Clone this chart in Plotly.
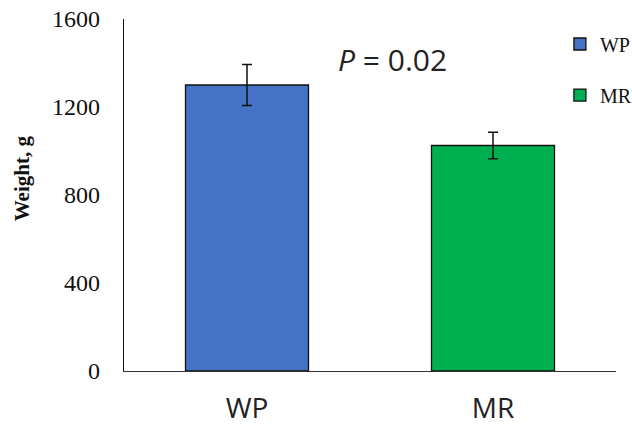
import plotly.graph_objects as go

categories = ["WP", "MR"]
weights = [1300, 1025]
errors = [93, 60]
colors = ["#4472C4", "#00B050"]
y_ticks = [0, 400, 800, 1200, 1600]

fig = go.Figure()
legends = ["legend", "legend2"]
for cat, w, e, c, lg in zip(categories, weights, errors, colors, legends):
    fig.add_trace(go.Bar(
        x=[cat], y=[w], name=cat, width=0.5,
        marker=dict(color=c, line=dict(color="#111111", width=1.3)),
        error_y=dict(type="data", array=[e], visible=True, color="#111111", thickness=1.5, width=5),
        legend=lg,
    ))

legend_font = dict(family="Liberation Serif", size=20, color="#111111")
fig.update_layout(
    width=632, height=425,
    margin=dict(l=124, r=16, t=19, b=54, autoexpand=False),
    plot_bgcolor="white", paper_bgcolor="white",
    barmode="overlay",
    showlegend=True,
    legend=dict(x=0.886, y=0.929, xanchor="left", yanchor="middle",
                font=legend_font, bgcolor="rgba(0,0,0,0)"),
    legend2=dict(x=0.886, y=0.784, xanchor="left", yanchor="middle",
                 font=legend_font, bgcolor="rgba(0,0,0,0)"),
    xaxis=dict(
        categoryorder="array", categoryarray=categories,
        showline=True, linecolor="#333333", linewidth=1.2,
        ticks="", ticklabelstandoff=12,
        tickfont=dict(family="Open Sans", size=28, color="#222222"),
        showgrid=False, zeroline=False,
    ),
    yaxis=dict(
        range=[0, 1600], tickvals=y_ticks,
        showline=True, linecolor="#111111", linewidth=1.2,
        ticks="", ticklabelstandoff=18,
        tickfont=dict(family="Liberation Serif", size=24, color="#111111"),
        showgrid=False, zeroline=False,
    ),
    annotations=[
        dict(text="<i>P</i> = 0.02", xref="paper", yref="paper", x=0.545, y=0.884,
             xanchor="center", yanchor="middle",
             showarrow=False, font=dict(family="Open Sans", size=30, color="#222222")),
        dict(text="<b>Weight, g</b>", xref="paper", yref="paper", x=-0.207, y=0.548,
             xanchor="center", yanchor="middle",
             textangle=-90, showarrow=False,
             font=dict(family="Liberation Serif", size=21, color="#111111")),
    ],
)

fig.write_html("out.html", config={"displayModeBar": False},
               post_script="document.body.style.margin='0';")
